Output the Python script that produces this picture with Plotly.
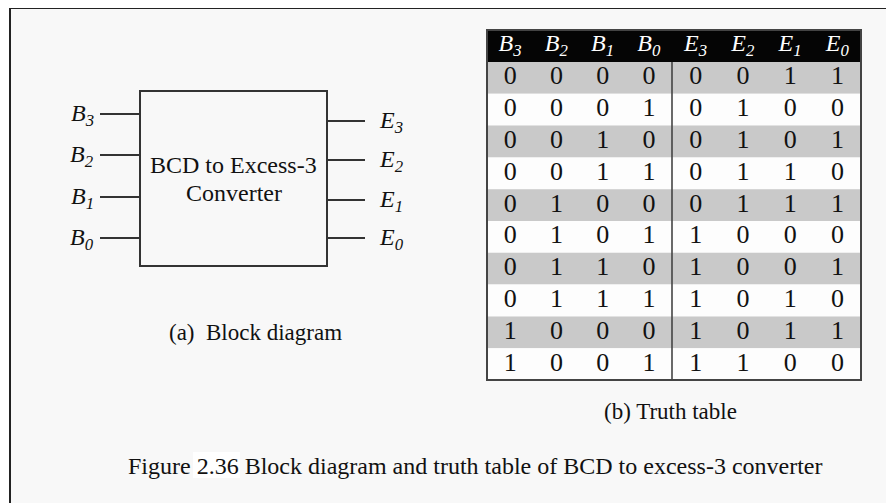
import plotly.graph_objects as go

# ---------------- data ----------------
headers = ["<i>B<sub>3</sub></i>", "<i>B<sub>2</sub></i>", "<i>B<sub>1</sub></i>", "<i>B<sub>0</sub></i>",
           "<i>E<sub>3</sub></i>", "<i>E<sub>2</sub></i>", "<i>E<sub>1</sub></i>", "<i>E<sub>0</sub></i>"]
B3 = [0, 0, 0, 0, 0, 0, 0, 0, 1, 1]
B2 = [0, 0, 0, 0, 1, 1, 1, 1, 0, 0]
B1 = [0, 0, 1, 1, 0, 0, 1, 1, 0, 0]
B0 = [0, 1, 0, 1, 0, 1, 0, 1, 0, 1]
E3 = [0, 0, 0, 0, 0, 1, 1, 1, 1, 1]
E2 = [0, 1, 1, 1, 1, 0, 0, 0, 0, 1]
E1 = [1, 0, 0, 1, 1, 0, 0, 1, 1, 0]
E0 = [1, 0, 1, 0, 1, 0, 1, 0, 1, 0]
input_labels = ["<i>B<sub>3</sub></i>", "<i>B<sub>2</sub></i>", "<i>B<sub>1</sub></i>", "<i>B<sub>0</sub></i>"]
output_labels = ["<i>E<sub>3</sub></i>", "<i>E<sub>2</sub></i>", "<i>E<sub>1</sub></i>", "<i>E<sub>0</sub></i>"]
block_text = ["BCD to Excess-3", "Converter"]
caption_a = "(a)  Block diagram"
caption_b = "(b) Truth table"
figure_caption = "Figure 2.36 Block diagram and truth table of BCD to excess-3 converter"

columns = [B3, B2, B1, B0, E3, E2, E1, E0]

# ---------------- layout geometry ----------------
W, H = 894, 503
OFF = 8                              # page body margin compensation
FONT = "Liberation Serif"
INK = "#111"
TL, TM, TR = 487, 672, 861          # table left, divider, right
TTOP, HDR_H = 30, 32                # header top and height
ROW_H = 31.8
n_rows = len(B3)
TBOT = TTOP + HDR_H + n_rows * ROW_H

def col_center(i):
    if i < 4:
        return TL + (i + 0.5) * (TM - TL) / 4
    return TM + (i - 4 + 0.5) * (TR - TM) / 4

def row_center(r):
    return TTOP + HDR_H + (r + 0.5) * ROW_H

shapes = []
# frame interior & border
shapes.append(dict(type="rect", x0=10, x1=W + 5, y0=8, y1=H + 5, fillcolor="#f8f8f8",
                   line=dict(width=0), layer="below"))
shapes.append(dict(type="line", x0=10, x1=10, y0=8, y1=H + 5, line=dict(color="#222", width=2)))
shapes.append(dict(type="line", x0=10, x1=W + 5, y0=8, y1=8, line=dict(color="#222", width=2)))

# table header and rows
shapes.append(dict(type="rect", x0=TL, x1=TR, y0=TTOP, y1=TTOP + HDR_H, fillcolor="#050505",
                   line=dict(width=0), layer="below"))
for r in range(n_rows):
    y0 = TTOP + HDR_H + r * ROW_H
    shapes.append(dict(type="rect", x0=TL, x1=TR, y0=y0, y1=y0 + ROW_H,
                       fillcolor="#c9c9c9" if r % 2 == 0 else "#fdfdfd",
                       line=dict(width=0), layer="below"))
shapes.append(dict(type="rect", x0=TL, x1=TR, y0=TTOP, y1=TBOT, line=dict(color="#444", width=2)))
shapes.append(dict(type="line", x0=TM, x1=TM, y0=TTOP + HDR_H, y1=TBOT, line=dict(color="#444", width=1.6)))

# block diagram
BX0, BX1, BY0, BY1 = 140, 327, 91, 266
shapes.append(dict(type="rect", x0=BX0, x1=BX1, y0=BY0, y1=BY1, line=dict(color="#333", width=2)))
in_y = [114, 155, 197, 238]
out_y = [121, 160, 200, 238]
for y in in_y:
    shapes.append(dict(type="line", x0=100, x1=BX0, y0=y, y1=y, line=dict(color="#333", width=2)))
for y in out_y:
    shapes.append(dict(type="line", x0=BX1, x1=365, y0=y, y1=y, line=dict(color="#333", width=2)))

# white highlight behind "2.36"
shapes.append(dict(type="rect", x0=193, x1=240, y0=452, y1=478, fillcolor="white",
                   line=dict(width=0), layer="below"))

fig = go.Figure()

# table header text
fig.add_trace(go.Scatter(
    x=[col_center(i) for i in range(8)], y=[TTOP + HDR_H / 2 - 1] * 8,
    mode="text", text=headers, textposition="middle center",
    textfont=dict(family=FONT, size=24, color="white"), hoverinfo="skip", showlegend=False))

# table body text
xs, ys, ts = [], [], []
for ci, col in enumerate(columns):
    for r, v in enumerate(col):
        xs.append(col_center(ci))
        ys.append(row_center(r))
        ts.append(str(v))
fig.add_trace(go.Scatter(
    x=xs, y=ys, mode="text", text=ts, textposition="middle center",
    textfont=dict(family=FONT, size=26, color=INK), hoverinfo="skip", showlegend=False))

annotations = []
for lab, y in zip(input_labels, in_y):
    annotations.append(dict(x=96, y=y + 1, text=lab, xanchor="right", yanchor="middle", showarrow=False,
                            font=dict(family=FONT, size=24, color=INK)))
for lab, y in zip(output_labels, out_y):
    annotations.append(dict(x=377, y=y + 1, text=lab, xanchor="left", yanchor="middle", showarrow=False,
                            font=dict(family=FONT, size=24, color=INK)))
for t, y in zip(block_text, [165, 193]):
    annotations.append(dict(x=(BX0 + BX1) / 2, y=y, text=t, xanchor="center", yanchor="middle",
                            showarrow=False, font=dict(family=FONT, size=24, color=INK)))
annotations.append(dict(x=255, y=332, text=caption_a, xanchor="center", yanchor="middle", showarrow=False,
                        font=dict(family=FONT, size=23, color=INK)))
annotations.append(dict(x=670, y=411, text=caption_b, xanchor="center", yanchor="middle", showarrow=False,
                        font=dict(family=FONT, size=23, color=INK)))
annotations.append(dict(x=475.5, y=466, text=figure_caption, xanchor="center", yanchor="middle",
                        showarrow=False, font=dict(family=FONT, size=24, color=INK)))

fig.update_layout(
    width=W - OFF, height=H - OFF, margin=dict(l=0, r=0, t=0, b=0),
    paper_bgcolor="white", plot_bgcolor="white",
    xaxis=dict(range=[OFF, W], visible=False, fixedrange=True),
    yaxis=dict(range=[H, OFF], visible=False, fixedrange=True),
    shapes=shapes, annotations=annotations, showlegend=False,
)

fig.write_html("out.html")
